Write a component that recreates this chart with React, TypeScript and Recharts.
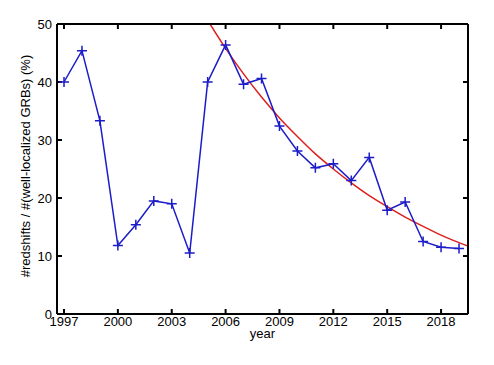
import React from 'react';
import { LineChart, Line, XAxis, YAxis } from 'recharts';

const years = [1997, 1998, 1999, 2000, 2001, 2002, 2003, 2004, 2005, 2006, 2007, 2008, 2009, 2010, 2011, 2012, 2013, 2014, 2015, 2016, 2017, 2018, 2019];
const fractions = [40.0, 45.4, 33.3, 11.8, 15.4, 19.5, 19.0, 10.5, 40.0, 46.4, 39.6, 40.6, 32.4, 28.1, 25.2, 25.9, 23.0, 27.0, 17.9, 19.3, 12.5, 11.5, 11.3];

const fitYears = [2005.13, 2006, 2007, 2008, 2009, 2010, 2011, 2012, 2013, 2014, 2015, 2016, 2017, 2018, 2019, 2019.5];
const fitValues = [50.0, 45.8, 41.4, 37.4, 33.8, 30.6, 27.6, 25.0, 22.6, 20.4, 18.5, 16.7, 15.1, 13.6, 12.3, 11.7];

const xTicks = [1997, 2000, 2003, 2006, 2009, 2012, 2015, 2018];
const yTicks = [0, 10, 20, 30, 40, 50];

const data = years.map((y, i) => ({ year: y, value: fractions[i] }));
const fitData = fitYears.map((y, i) => ({ year: y, fit: fitValues[i] }));

const BLUE = '#1c1cc8';
const RED = '#dc2020';
const FONT = 'Liberation Sans, Arial, sans-serif';

const PlusDot = (props: any) => {
  const { cx, cy, index } = props;
  if (cx == null || cy == null) return <g key={index} />;
  return (
    <path
      key={index}
      d={`M${cx - 5},${cy}h10M${cx},${cy - 5}v10`}
      stroke={BLUE}
      strokeWidth={1.5}
      fill="none"
    />
  );
};

const tickStyle = { fill: '#000', fontSize: 13, fontFamily: FONT };

export default function App() {
  return (
    <div style={{ position: 'absolute', left: 0, top: 0, width: 494, height: 365, background: '#fff' }}>
      <LineChart width={494} height={365} data={data} margin={{ top: 23, right: 25, bottom: 0, left: 0 }}>
        <XAxis
          dataKey="year"
          type="number"
          domain={[1996.61, 2019.5]}
          ticks={xTicks}
          allowDataOverflow
          height={51}
          tickSize={-5}
          tickMargin={8}
          stroke="#000"
          strokeWidth={2}
          tick={tickStyle}
          label={{ value: 'year', position: 'insideTop', offset: 15, fill: '#000', fontSize: 13, fontFamily: FONT }}
        />
        <XAxis
          xAxisId="top"
          dataKey="year"
          type="number"
          orientation="top"
          domain={[1996.61, 2019.5]}
          ticks={xTicks}
          allowDataOverflow
          height={1}
          tickSize={-5}
          stroke="#000"
          strokeWidth={2}
          tickFormatter={() => ''}
        />
        <YAxis
          type="number"
          domain={[0, 50]}
          ticks={yTicks}
          allowDataOverflow
          width={57}
          tickSize={-5}
          tickMargin={10}
          stroke="#000"
          strokeWidth={2}
          tick={tickStyle}
          label={{
            value: '#redshifts / #(well-localized GRBs) (%)',
            angle: -90,
            position: 'center',
            dx: -3,
            dy: -3,
            fill: '#000',
            fontSize: 13,
            fontFamily: FONT,
          }}
        />
        <YAxis
          yAxisId="right"
          type="number"
          orientation="right"
          domain={[0, 50]}
          ticks={yTicks}
          allowDataOverflow
          width={1}
          tickSize={-5}
          stroke="#000"
          strokeWidth={2}
          tickFormatter={() => ''}
        />
        <Line
          xAxisId="top"
          yAxisId="right"
          data={fitData}
          dataKey="fit"
          type="monotone"
          stroke={RED}
          strokeWidth={1.5}
          dot={false}
          isAnimationActive={false}
        />
        <Line
          dataKey="value"
          type="linear"
          stroke={BLUE}
          strokeWidth={1.5}
          dot={PlusDot}
          isAnimationActive={false}
        />
      </LineChart>
    </div>
  );
}
